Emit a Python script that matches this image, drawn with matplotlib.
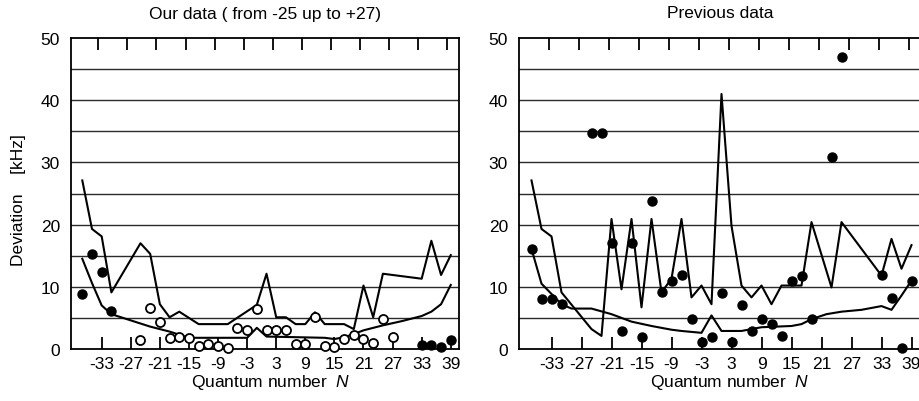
import matplotlib
matplotlib.use('Agg')
import matplotlib.pyplot as plt

plt.rcParams['font.family'] = ['Liberation Sans', 'DejaVu Sans']
plt.rcParams['mathtext.fontset'] = 'custom'
plt.rcParams['mathtext.it'] = 'Liberation Sans:italic'
plt.rcParams['mathtext.rm'] = 'Liberation Sans'

tick_N = list(range(-33, 40, 6))
y_ticks = [0, 10, 20, 30, 40, 50]
grid_levels = [5, 10, 15, 20, 25, 30, 35, 40, 45]

# ---- Left panel: our data ----
left_upper_N = [-37, -35, -33, -31, -25, -23, -21, -19, -17, -13, -7, -1, 1, 3, 5, 7, 9, 11, 13, 17, 19, 21, 23, 25, 27, 33, 35, 37, 39]
left_upper_v = [27.1, 19.3, 18.1, 9.1, 17.0, 15.3, 7.2, 5.1, 6.0, 4.0, 4.0, 7.1, 12.1, 5.1, 5.1, 4.0, 4.0, 5.9, 4.0, 4.0, 3.2, 10.2, 5.1, 12.1, 11.9, 11.3, 17.4, 11.9, 15.1]

left_lower_N = [-37, -35, -33, -31, -29, -27, -25, -23, -21, -19, -17, -15, -3, -1, 1, 13, 15, 17, 19, 21, 25, 29, 33, 35, 37, 39]
left_lower_v = [14.5, 10.6, 7.0, 5.6, 5.1, 4.6, 4.1, 3.6, 3.2, 2.8, 2.3, 1.8, 1.8, 3.4, 2.0, 1.8, 1.6, 1.9, 2.4, 3.0, 3.8, 4.5, 5.3, 6.0, 7.2, 10.3]

left_filled_N = [-37, -35, -33, -31, 33, 35, 37, 39]
left_filled_v = [8.8, 15.3, 12.3, 6.1, 0.6, 0.6, 0.4, 1.4]

left_open_N = [-25, -23, -21, -19, -17, -15, -13, -11, -9, -7, -5, -3, -1, 1, 3, 5, 7, 9, 11, 13, 15, 17, 19, 21, 23, 25, 27]
left_open_v = [1.5, 6.6, 4.3, 1.8, 2.0, 1.8, 0.5, 0.8, 0.5, 0.1, 3.3, 3.1, 6.4, 3.1, 3.1, 3.1, 0.8, 0.8, 5.1, 0.5, 0.4, 1.6, 2.3, 1.6, 0.9, 4.8, 2.0]

# ---- Right panel: previous data ----
right_upper_N = [-37, -35, -33, -31, -25, -23, -21, -19, -17, -15, -13, -11, -9, -7, -5, -3, -1, 1, 3, 5, 7, 9, 11, 13, 17, 19, 23, 25, 33, 35, 37, 39]
right_upper_v = [27.1, 19.3, 18.1, 9.1, 3.2, 2.1, 20.9, 9.6, 20.9, 6.7, 20.9, 9.1, 11.3, 20.9, 8.3, 10.2, 7.2, 41.0, 19.8, 10.2, 8.3, 10.2, 7.2, 10.2, 10.2, 20.4, 9.9, 20.4, 11.8, 17.7, 12.9, 16.7]

right_lower_N = [-37, -35, -31, -29, -25, -21, -17, -13, -9, -7, -3, -1, 1, 5, 9, 15, 17, 19, 22, 25, 29, 33, 35, 37, 39]
right_lower_v = [16.1, 10.5, 7.2, 6.5, 6.5, 5.6, 4.4, 3.7, 3.1, 2.9, 2.6, 5.4, 2.9, 2.9, 3.5, 3.7, 4.0, 4.8, 5.6, 6.0, 6.3, 6.9, 6.3, 8.6, 11.0]

right_filled_N = [-37, -35, -33, -31, -25, -23, -21, -19, -17, -15, -13, -11, -9, -7, -5, -3, -1, 1, 3, 5, 7, 9, 11, 13, 15, 17, 19, 23, 25, 33, 35, 37, 39]
right_filled_v = [16.1, 8.1, 8.1, 7.2, 34.8, 34.8, 17.0, 2.9, 17.0, 2.0, 23.8, 9.1, 11.0, 11.9, 4.9, 1.1, 2.0, 9.0, 1.1, 7.1, 2.9, 4.9, 4.0, 2.1, 11.0, 11.8, 4.9, 30.8, 46.9, 11.9, 8.2, 0.1, 11.0]

W, H = 919, 402
fig = plt.figure(figsize=(W / 100, H / 100), dpi=100)


def make_axes(x0, x1, xlim, top_offset):
    ax = fig.add_axes([x0 / W, (H - 350) / H, (x1 - x0) / W, (350 - 39) / H])
    ax.set_xlim(*xlim)
    ax.set_ylim(0, 50)
    for lv in grid_levels:
        ax.axhline(lv, color='#2a2a2a', lw=1.0, zorder=1)
    for s in ax.spines.values():
        s.set_linewidth(1.3)
        s.set_color('black')
    ax.set_xticks(tick_N)
    ax.set_xticklabels([str(t) for t in tick_N])
    ax.set_yticks(y_ticks)
    ax.tick_params(axis='x', direction='in', length=8.5, width=1.3, labelsize=12.5, pad=5)
    ax.tick_params(axis='y', length=0, labelsize=12.5, pad=8)
    top = ax.twiny()
    top.set_xlim(*xlim)
    top.set_xticks([t - top_offset for t in tick_N])
    top.tick_params(axis='x', direction='in', length=8.5, width=1.3, labeltop=False)
    for s in top.spines.values():
        s.set_visible(False)
    return ax


axL = make_axes(71, 459, (-39.33, 40.7), 0.7)
axL.plot(left_upper_N, left_upper_v, color='black', lw=1.5, zorder=3)
axL.plot(left_lower_N, left_lower_v, color='black', lw=1.5, zorder=3)
axL.plot(left_filled_N, left_filled_v, 'o', color='black', ms=6.5, zorder=4, clip_on=False)
axL.plot(left_open_N, left_open_v, 'o', mfc='white', mec='black', mew=1.3, ms=6.5, zorder=4, clip_on=False)

axR = make_axes(519, 921, (-39.5, 40.9), 0.55)
axR.plot(right_upper_N, right_upper_v, color='black', lw=1.5, zorder=3)
axR.plot(right_lower_N, right_lower_v, color='black', lw=1.5, zorder=3)
axR.plot(right_filled_N, right_filled_v, 'o', color='black', ms=6.5, zorder=4, clip_on=False)

fig.text(265 / W, 1 - 14 / H, 'Our data ( from -25 up to +27)', ha='center', va='center', fontsize=12.5)
fig.text(720 / W, 1 - 14 / H, 'Previous data', ha='center', va='center', fontsize=12.5)
fig.text(271 / W, 1 - 383 / H, r'Quantum number  $\mathit{N}$', ha='center', va='center', fontsize=12.5)
fig.text(730 / W, 1 - 383 / H, r'Quantum number  $\mathit{N}$', ha='center', va='center', fontsize=12.5)
fig.text(19 / W, 1 - 200 / H, 'Deviation    [kHz]', rotation=90, ha='center', va='center', fontsize=12.5)

fig.savefig('out.png', dpi=100)
